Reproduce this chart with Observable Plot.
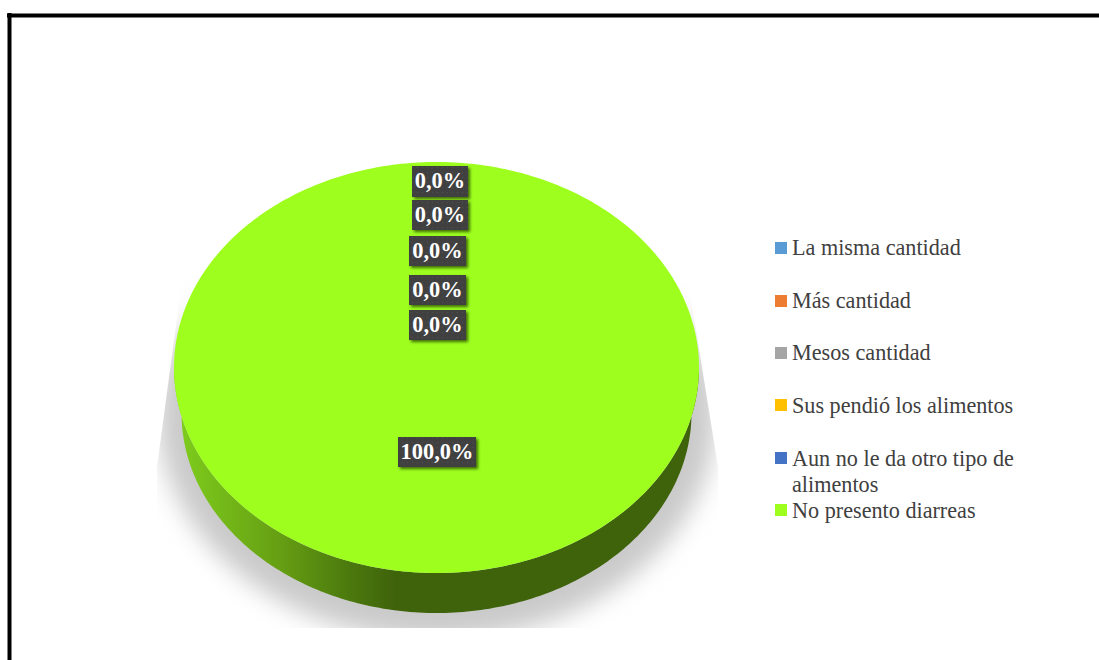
<!DOCTYPE html>
<html>
<head>
<meta charset="utf-8">
<script src="https://cdn.jsdelivr.net/npm/d3@7"></script>
<script src="https://cdn.jsdelivr.net/npm/@observablehq/plot@0.6"></script>
<style>
  html, body { margin: 0; padding: 0; background: #fff; overflow: hidden; }
  #root { position: relative; width: 1099px; height: 660px; }
  #legend { position: absolute; left: 0; top: 0; font-family: "Liberation Serif", serif; font-size: 22.2px; color: #404040; }
  #legend .sw { position: absolute; width: 12px; height: 12px; left: 775px; }
  #legend .tx { position: absolute; left: 792px; white-space: nowrap; line-height: 26px; }
</style>
</head>
<body>
<div id="root"></div>
<script>
// Data
const categories = ["La misma cantidad", "Más cantidad", "Mesos cantidad", "Sus pendió los alimentos", "Aun no le da otro tipo de alimentos", "No presento diarreas"];
const values = [0, 0, 0, 0, 0, 100];
const colors = ["#5b9bd5", "#ed7d31", "#a5a5a5", "#ffc000", "#4472c4", "#9eff1f"];
const labels = ["0,0%", "0,0%", "0,0%", "0,0%", "0,0%", "100,0%"];

// Layout (chart frame in pixels)
const pie3d = {cx: 436.5, cy: 367.5, rx: 262.5, ry: 205.5};
const pieFloor = {cx: 436.5, cy: 413, rx: 255, ry: 200};
const shadow = {cx: 437, cy: 415, rx: 279, ry: 225};
const labelBoxes = [
  {x1: 412, x2: 468, y1: 166, y2: 197},
  {x1: 412, x2: 468, y1: 200, y2: 230},
  {x1: 409, x2: 466, y1: 236, y2: 266},
  {x1: 409, x2: 466, y1: 275, y2: 305},
  {x1: 409, x2: 466, y1: 310, y2: 340},
  {x1: 398, x2: 476, y1: 437, y2: 467}
];
const legendRows = [
  {sw: 248, lines: [248]},
  {sw: 301, lines: [301]},
  {sw: 353, lines: [353]},
  {sw: 405, lines: [406]},
  {sw: 458, lines: [459, 485]},
  {sw: 510, lines: [511]}
];
const legendLines = [["La misma cantidad"], ["Más cantidad"], ["Mesos cantidad"], ["Sus pendió los alimentos"], ["Aun no le da otro tipo de", "alimentos"], ["No presento diarreas"]];

// Slices from the values
const arcs = d3.pie().sort(null).value(d => d)(values);
const rim = (a, p = pie3d) => ({px: p.cx + p.rx * Math.sin(a), py: p.cy - p.ry * Math.cos(a)});
const slicePts = arcs.flatMap((arc, i) => {
  const n = Math.max(1, Math.ceil((arc.endAngle - arc.startAngle) * 60));
  return d3.range(n + 1).map(k => {
    const a = arc.startAngle + (arc.endAngle - arc.startAngle) * k / n;
    return {cat: categories[i], ...rim(a)};
  });
});
// Front wall: lower half of the rim down to the smaller floor ellipse
const wallPts = d3.range(Math.PI / 2, 3 * Math.PI / 2 + 0.001, Math.PI / 180).map(a => {
  const t = rim(a), b = rim(a, pieFloor);
  return {x1: t.px, y1: t.py, x2: b.px, y2: b.py};
});
const shadowPts = d3.range(0, 2 * Math.PI + 0.001, Math.PI / 90).map(a => ({...rim(a, shadow)}));

const defs = () => {
  const g = d3.create("svg:g");
  g.html(`<defs>
    <linearGradient id="sideGrad" gradientUnits="userSpaceOnUse" x1="174" x2="699" y1="0" y2="0">
      <stop offset="0" stop-color="#7fcf1d"/>
      <stop offset="0.2" stop-color="#669f13"/>
      <stop offset="0.33" stop-color="#4c7a0e"/>
      <stop offset="0.42" stop-color="#3f630b"/>
      <stop offset="1" stop-color="#3f630b"/>
    </linearGradient>
    <linearGradient id="shadowGrad" gradientUnits="userSpaceOnUse" x1="0" x2="0" y1="285" y2="360">
      <stop offset="0" stop-color="#ffffff"/>
      <stop offset="1" stop-color="#cacaca"/>
    </linearGradient>
    <pattern id="boxTex" patternUnits="userSpaceOnUse" width="5" height="5">
      <rect width="5" height="5" fill="#404040"/>
      <circle cx="2.5" cy="2.5" r="0.8" fill="#4c4c4c"/>
    </pattern>
  </defs>`);
  return g.node();
};

const clipShadow = (index, scales, values, dims, context, next) => {
  const node = next(index, scales, values, dims, context);
  const pts = [[182,280],[157,467],[157,628],[718,628],[718,467],[688,280]];
  const ns = "http://www.w3.org/2000/svg";
  const cp = document.createElementNS(ns, "clipPath");
  cp.setAttribute("id", "shadowClip");
  const poly = document.createElementNS(ns, "polygon");
  poly.setAttribute("points", pts.map(([x, y]) => `${scales.x(x)},${scales.y(y)}`).join(" "));
  cp.appendChild(poly);
  const wrap = document.createElementNS(ns, "g");
  wrap.appendChild(cp);
  wrap.setAttribute("clip-path", "url(#shadowClip)");
  wrap.appendChild(node);
  return wrap;
};

const labelData = labels.map((t, i) => ({t, ...labelBoxes[i]}));

const chart = Plot.plot({
  width: 1099,
  height: 660,
  margin: 0,
  x: {domain: [0, 1099], range: [0, 1099], axis: null},
  y: {domain: [0, 660], range: [0, 660], axis: null},
  color: {domain: categories, range: colors},
  style: {background: "white"},
  marks: [
    defs,
    Plot.area(shadowPts, {x1: "px", y1: "py", x2: shadow.cx, y2: shadow.cy, fill: "url(#shadowGrad)", imageFilter: "blur(12px)", render: clipShadow}),
    Plot.area(wallPts, {x1: "x1", y1: "y1", x2: "x2", y2: "y2", fill: "url(#sideGrad)"}),
    Plot.area(slicePts, {x1: "px", y1: "py", x2: pie3d.cx, y2: pie3d.cy, z: "cat", fill: "cat"}),
    Plot.rect(labelData, {x1: "x1", x2: "x2", y1: "y1", y2: "y2", fill: "url(#boxTex)", imageFilter: "drop-shadow(2px 2px 1.5px #3f6a08)"}),
    Plot.text(labelData, {
      x: d => (d.x1 + d.x2) / 2 - 0.5, y: d => (d.y1 + d.y2) / 2 - 0.7, text: "t",
      fill: "white", fontFamily: "Liberation Serif", fontWeight: "bold", fontSize: 22.4
    }),
    Plot.ruleY([15], {x1: 7, x2: 1099, stroke: "black", strokeWidth: 4}),
    Plot.ruleX([9], {y1: 13, y2: 660, stroke: "black", strokeWidth: 4})
  ]
});
const root = document.getElementById("root");
root.appendChild(chart);

// Legend
const legend = d3.select(root).append("div").attr("id", "legend");
categories.forEach((c, i) => {
  legend.append("div").attr("class", "sw").style("top", (legendRows[i].sw - 6) + "px").style("background", chart.scale("color").apply(c));
  legendLines[i].forEach((ln, j) => {
    legend.append("div").attr("class", "tx").style("top", (legendRows[i].lines[j] - 13) + "px").text(ln);
  });
});
</script>
</body>
</html>
